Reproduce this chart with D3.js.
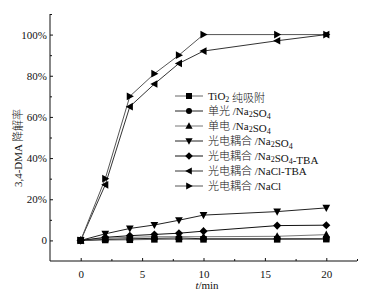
<!DOCTYPE html>
<html><head><meta charset="utf-8">
<script src="https://cdn.jsdelivr.net/npm/d3@7"></script>
<style>
body{margin:0;background:#fff;}
text{font-family:"Liberation Serif","Times New Roman","Noto Sans CJK SC",serif;}
.cjk{font-weight:300;}
</style></head>
<body><svg id="c" width="370" height="295"></svg>
<script>
const times = [0, 2, 4, 6, 8, 10, 16, 20];
const seriesNames = ["TiO2 纯吸附", "单光 /Na2SO4", "单电 /Na2SO4", "光电耦合 /Na2SO4", "光电耦合 /Na2SO4-TBA", "光电耦合 /NaCl-TBA", "光电耦合 /NaCl"];
const sTiO2 = [0, 0.2, 0.3, 0.5, 0.6, 0.5, 0.5, 0.6];
const sLight = [0, 0.5, 0.8, 1.0, 1.2, 0.8, 0.8, 0.8];
const sElec = [0, 1.0, 1.5, 1.8, 1.8, 1.8, 2.0, 2.8];
const sPECNa2SO4 = [0, 3.2, 5.8, 7.5, 9.8, 12.3, 14, 15.8];
const sPECNa2SO4TBA = [0, 1.5, 2.3, 2.9, 3.5, 4.5, 7.2, 7.4];
const sPECNaClTBA = [0, 27, 65, 76, 86, 92, 97, 100];
const sPECNaCl = [0, 30, 70, 81, 90, 100, 100, 100];
const yTicks = [0, 20, 40, 60, 80, 100];
const yTickLabels = ["0", "20%", "40%", "60%", "80%", "100%"];
const xTicks = [0, 5, 10, 15, 20];

const allSeries = [sTiO2, sLight, sElec, sPECNa2SO4, sPECNa2SO4TBA, sPECNaClTBA, sPECNaCl];
const markers = ["square", "circle", "up", "down", "diamond", "left", "right"];
const colors = ["#666", "#222", "#777", "#222", "#111", "#333", "#555"];

const svg = d3.select("#c");
const L = 50, R = 357, T = 14, B = 261;
const x = d3.scaleLinear().domain([-2.5, 22.5]).range([L, R]);
const y = d3.scaleLinear().domain([-10, 110]).range([B, T]);

function markerPath(type, s) {
  const h = s / 2;
  switch (type) {
    case "square": return `M${-h},${-h}H${h}V${h}H${-h}Z`;
    case "circle": return d3.symbol(d3.symbolCircle, Math.PI * h * h)();
    case "up": return `M0,${-h - 0.8}L${h + 0.6},${h - 0.2}L${-h - 0.6},${h - 0.2}Z`;
    case "down": return `M0,${h + 0.8}L${h + 0.6},${-h + 0.2}L${-h - 0.6},${-h + 0.2}Z`;
    case "diamond": return `M0,${-h - 0.8}L${h + 0.8},0L0,${h + 0.8}L${-h - 0.8},0Z`;
    case "left": return `M${-h - 0.8},0L${h - 0.2},${-h - 0.6}L${h - 0.2},${h + 0.6}Z`;
    case "right": return `M${h + 0.8},0L${-h + 0.2},${-h - 0.6}L${-h + 0.2},${h + 0.6}Z`;
  }
}

// axes
const yAxis = d3.axisLeft(y).tickValues(yTicks).tickSize(-3).tickFormat((d, i) => yTickLabels[i]).tickPadding(3);
const gy = svg.append("g").attr("transform", `translate(${L},0)`).call(yAxis);
gy.select(".domain").attr("d", `M0,${T}V${B}`);
svg.append("g").attr("transform", `translate(${L},0)`)
  .call(d3.axisLeft(y).tickValues([10, 30, 50, 70, 90, 110]).tickSize(-2).tickFormat(""))
  .select(".domain").remove();

const xAxis = d3.axisBottom(x).tickValues(xTicks).tickSize(-3).tickPadding(9);
const gx = svg.append("g").attr("transform", `translate(0,${B})`).call(xAxis);
gx.select(".domain").attr("d", `M${L},0H${R}`);
svg.append("g").attr("transform", `translate(0,${B})`)
  .call(d3.axisBottom(x).tickValues([2.5, 7.5, 12.5, 17.5, 22.5]).tickSize(-2).tickFormat(""))
  .select(".domain").remove();

svg.selectAll(".tick text").attr("font-size", 11).attr("fill", "#111").attr("font-family", "Liberation Serif, serif");
svg.selectAll(".domain, .tick line").attr("stroke", "#111");

// lines and markers
const line = d3.line().x((d, i) => x(times[i])).y(d => y(d));
allSeries.forEach((s, k) => {
  svg.append("path").attr("d", line(s)).attr("fill", "none").attr("stroke", colors[k]).attr("stroke-width", 1);
});
allSeries.forEach((s, k) => {
  svg.append("g").selectAll("path").data(s).join("path")
    .attr("transform", (d, i) => `translate(${x(times[i])},${y(d)})`)
    .attr("d", markerPath(markers[k], 6.5)).attr("fill", "#000");
});

// legend
const legX = 175, legY0 = 96, legDy = 15;
const leg = svg.append("g");
seriesNames.forEach((name, k) => {
  const yy = legY0 + k * legDy;
  leg.append("line").attr("x1", legX).attr("x2", legX + 28).attr("y1", yy).attr("y2", yy).attr("stroke", colors[k]).attr("stroke-width", 1);
  leg.append("path").attr("transform", `translate(${legX + 14},${yy})`).attr("d", markerPath(markers[k], 6)).attr("fill", "#000");
  const t = leg.append("text").attr("x", legX + 33).attr("y", yy + 4).attr("font-size", 11).attr("fill", "#111").attr("class", "cjk");
  const parts = name.split(/(O2|Na2|SO4)/).filter(p => p.length);
  parts.forEach(p => {
    if (p === "O2") { t.append("tspan").text("O"); t.append("tspan").attr("font-size", 8).attr("dy", 2).text("2"); t.append("tspan").attr("dy", -2).text(""); }
    else if (p === "Na2") { t.append("tspan").text("Na"); t.append("tspan").attr("font-size", 8).attr("dy", 2).text("2"); t.append("tspan").attr("dy", -2).text(""); }
    else if (p === "SO4") { t.append("tspan").text("SO"); t.append("tspan").attr("font-size", 8).attr("dy", 2).text("4"); t.append("tspan").attr("dy", -2).text(""); }
    else t.append("tspan").text(p);
  });
});

// axis titles
const xt = svg.append("text").attr("x", 207).attr("y", 289).attr("text-anchor", "middle").attr("font-size", 11).attr("fill", "#111");
xt.append("tspan").attr("font-style", "italic").text("t");
xt.append("tspan").text("/min");
svg.append("text").attr("transform", "translate(22,148) rotate(-90)").attr("text-anchor", "middle").attr("class", "cjk")
  .attr("font-size", 11).attr("fill", "#111").text("3,4-DMA 降解率");
</script></body></html>
